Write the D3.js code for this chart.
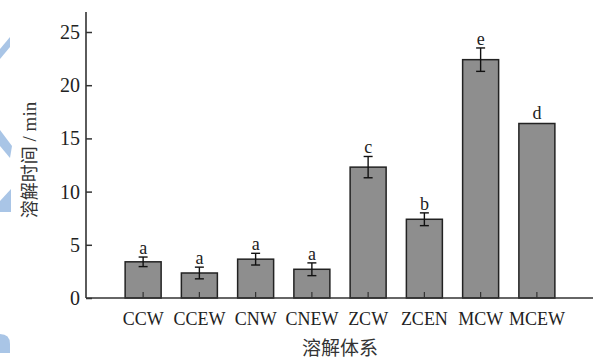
<!DOCTYPE html>
<html>
<head>
<meta charset="utf-8">
<script src="https://cdn.jsdelivr.net/npm/d3@7"></script>
<style>
  html, body { margin: 0; padding: 0; background: #fff; }
  svg { display: block; }
</style>
</head>
<body>
<svg id="chart" width="595" height="360"></svg>
<script>
const categories = ["CCW", "CCEW", "CNW", "CNEW", "ZCW", "ZCEN", "MCW", "MCEW"];
const values = [3.4, 2.35, 3.65, 2.7, 12.3, 7.4, 22.4, 16.4];
const errors = [0.45, 0.55, 0.55, 0.6, 1.0, 0.6, 1.1, 0];
const letters = ["a", "a", "a", "a", "c", "b", "e", "d"];
const yTicks = [0, 5, 10, 15, 20, 25];
const xTitle = "溶解体系";
const yTitleCJK = "溶解时间";
const yTitleUnit = " / min";

const svg = d3.select("#chart");
const serif = "'Liberation Serif', 'Times New Roman', serif";
const cjk = "'Noto Sans CJK SC', sans-serif";
const axisColor = "#333";

// decorative light-blue marks along left edge
const deco = svg.append("g").attr("fill", "#a9c5e6");
deco.append("path").attr("d", "M0,49 L10,37 L10,47 L0,59 Z");
deco.append("path").attr("d", "M0,130 L12,146 L10,158 L0,146 Z");
deco.append("path").attr("d", "M0,201 L11,189 L11,212 L0,212 Z");
deco.append("path").attr("d", "M0,334 Q10,334 10,344 L10,353 L0,353 Z");

const y = d3.scaleLinear().domain([0, 25]).range([298, 32]);
const x = d3.scaleBand().domain(categories).range([115, 565])
  .paddingInner(0.36).paddingOuter(0.18);

const xAxisStart = 86, xAxisEnd = 593, yAxisTop = 12;

// bars
svg.append("g").selectAll("rect").data(categories).join("rect")
  .attr("x", d => x(d))
  .attr("y", (d, i) => y(values[i]))
  .attr("width", x.bandwidth())
  .attr("height", (d, i) => y(0) - y(values[i]))
  .attr("fill", "#8e8e8e")
  .attr("stroke", "#222")
  .attr("stroke-width", 1.5);

// error bars
const eg = svg.append("g").attr("stroke", "#111").attr("stroke-width", 1.4);
categories.forEach((c, i) => {
  if (!errors[i]) return;
  const cx = x(c) + x.bandwidth() / 2;
  const t = y(values[i] + errors[i]), b = y(values[i] - errors[i]);
  eg.append("line").attr("x1", cx).attr("x2", cx).attr("y1", t).attr("y2", b);
  eg.append("line").attr("x1", cx - 4.5).attr("x2", cx + 4.5).attr("y1", t).attr("y2", t);
  eg.append("line").attr("x1", cx - 4.5).attr("x2", cx + 4.5).attr("y1", b).attr("y2", b);
});

// letters
svg.append("g").selectAll("text").data(categories).join("text")
  .attr("x", d => x(d) + x.bandwidth() / 2)
  .attr("y", (d, i) => y(values[i] + errors[i]) - (errors[i] ? 3 : 5))
  .attr("text-anchor", "middle")
  .attr("font-family", serif)
  .attr("font-size", 18)
  .attr("fill", "#222")
  .text((d, i) => letters[i]);

// y axis
const yAxis = d3.axisRight(y).tickValues(yTicks).tickSize(6).tickFormat(d3.format("d"));
const yg = svg.append("g").attr("transform", `translate(${xAxisStart},0)`).call(yAxis);
yg.select(".domain").remove();
yg.selectAll(".tick line").attr("stroke", axisColor).attr("stroke-width", 1.5);
yg.selectAll(".tick text")
  .attr("x", -6).attr("text-anchor", "end")
  .attr("font-family", serif).attr("font-size", 20).attr("fill", "#222");
svg.append("line").attr("x1", xAxisStart).attr("x2", xAxisStart)
  .attr("y1", yAxisTop).attr("y2", y(0))
  .attr("stroke", axisColor).attr("stroke-width", 1.6);

// x axis
const xAxis = d3.axisBottom(x).tickSize(-6).tickPadding(14);
const xg = svg.append("g").attr("transform", `translate(0,${y(0)})`).call(xAxis);
xg.select(".domain").remove();
xg.selectAll(".tick line").attr("stroke", axisColor).attr("stroke-width", 1.2);
xg.selectAll(".tick text")
  .attr("font-family", serif).attr("font-size", 18).attr("fill", "#222");
svg.append("line").attr("x1", xAxisStart).attr("x2", xAxisEnd)
  .attr("y1", y(0)).attr("y2", y(0))
  .attr("stroke", axisColor).attr("stroke-width", 1.6);

// x title
svg.append("text")
  .attr("x", 340).attr("y", 350)
  .attr("dominant-baseline", "middle")
  .attr("text-anchor", "middle")
  .attr("font-family", cjk).attr("font-size", 19).attr("fill", "#333")
  .text(xTitle);

// y title
const yt = svg.append("text")
  .attr("transform", "translate(36,160) rotate(-90)")
  .attr("text-anchor", "middle")
  .attr("font-size", 18).attr("fill", "#333");
yt.append("tspan").attr("font-family", cjk).text(yTitleCJK);
yt.append("tspan").attr("font-family", serif).attr("font-size", 19).text(yTitleUnit);
</script>
</body>
</html>
